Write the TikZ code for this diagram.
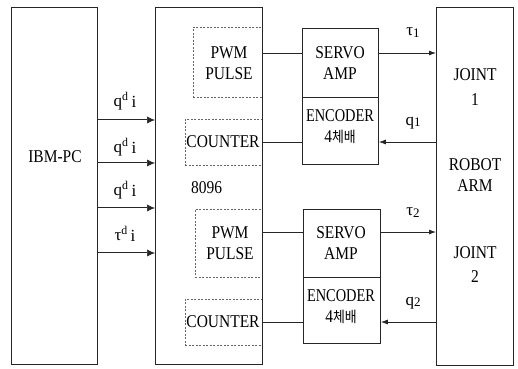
\documentclass[tikz,border=0pt]{standalone}
\usepackage{fontspec}
\setmainfont{Liberation Serif}
\newfontfamily\kr{Noto Sans CJK KR}
\usetikzlibrary{arrows.meta}
\newcommand\nx[1]{\scalebox{0.86}[1]{#1}}
\newcommand\nxe[1]{\scalebox{0.8}[1]{#1}}
\begin{document}
\begin{tikzpicture}[x=1pt,y=-1pt,
  blk/.style={draw=black!85, line width=0.8pt, anchor=north west, inner sep=0pt},
  dbox/.style={draw=black!60, dash pattern=on 2pt off 1.5pt, line width=0.6pt, anchor=north west, inner sep=0pt},
  lbl/.style={font=\fontsize{18}{21}\selectfont, align=center, inner sep=0pt},
  sig/.style={font=\fontsize{17}{19}\selectfont, inner sep=0pt},
  wire/.style={line width=0.8pt, draw=black!85},
  arr/.style={line width=0.8pt, draw=black!85, -{Latex[length=7pt,width=5pt]}},
  dbl/.style={double=white, double distance=0.9pt, line width=0.6pt, draw=black!85, -{Latex[length=8pt,width=7pt]}}
]
\useasboundingbox (0,0) rectangle (518,368);
% dashed inner blocks
\node[dbox, minimum width=69pt, minimum height=70pt] (pwm1) at (193,27) {};
\node[dbox, minimum width=77pt, minimum height=46pt] (cnt1) at (185,119) {};
\node[dbox, minimum width=67pt, minimum height=68pt] (pwm2) at (195,209) {};
\node[dbox, minimum width=77pt, minimum height=46pt] (cnt2) at (185,299) {};
% main blocks
\node[blk, minimum width=86pt, minimum height=357pt] (ibm) at (11,7) {};
\node[blk, minimum width=107pt, minimum height=357pt] (mcu) at (155,7) {};
\node[blk, minimum width=77pt, minimum height=358pt] (joint) at (436,7) {};
\node[blk, minimum width=76pt, minimum height=69pt] (servo1) at (302,28) {};
\node[blk, minimum width=76pt, minimum height=67pt] (enc1) at (302,97) {};
\node[blk, minimum width=77pt, minimum height=68pt] (servo2) at (303,209) {};
\node[blk, minimum width=77pt, minimum height=66pt] (enc2) at (303,277) {};
% texts
\node[lbl] (ibmt) at (55,157) {\nx{IBM-PC}};
\node[lbl, anchor=west] (mcut) at (191,188) {\nx{8096}};
\node[lbl] (pwm1t) at (229,63) {\nx{PWM}\\\nx{PULSE}};
\node[lbl] (cnt1t) at (223,142) {\nx{COUNTER}};
\node[lbl] (pwm2t) at (230,243) {\nx{PWM}\\\nx{PULSE}};
\node[lbl] (cnt2t) at (223,322) {\nx{COUNTER}};
\node[lbl] (servo1t) at (340,63) {\nx{SERVO}\\\nx{AMP}};
\node[lbl] (enc1t) at (340,127) {\nxe{ENCODER}\\\nx{4{\kr\fontsize{15}{17}\selectfont 체배}}};
\node[lbl] (servo2t) at (341,243) {\nx{SERVO}\\\nx{AMP}};
\node[lbl] (enc2t) at (341,307) {\nxe{ENCODER}\\\nx{4{\kr\fontsize{15}{17}\selectfont 체배}}};
\node[lbl, font=\fontsize{18}{25}\selectfont] (j1t) at (475,87) {\nx{JOINT}\\\nx{1}};
\node[lbl] (armt) at (475,175) {\nx{ROBOT}\\\nx{ARM}};
\node[lbl, font=\fontsize{18}{24}\selectfont] (j2t) at (475,265) {\nx{JOINT}\\\nx{2}};
% signal rows
\coordinate (a1) at (0,120);
\coordinate (a2) at (0,163);
\coordinate (a3) at (0,208);
\coordinate (a4) at (0,253);
\coordinate (r1) at (0,53);
\coordinate (r2) at (0,142);
\coordinate (r3) at (0,232);
\coordinate (r4) at (0,322);
% IBM -> 8096
\draw[dbl] (ibm.east |- a1) -- (mcu.west |- a1);
\draw[dbl] (ibm.east |- a2) -- (mcu.west |- a2);
\draw[dbl] (ibm.east |- a3) -- (mcu.west |- a3);
\draw[dbl] (ibm.east |- a4) -- (mcu.west |- a4);
\node[sig] (l1) at (125,101) {q\textsuperscript{d}\,\raisebox{-1pt}{i}};
\node[sig] (l2) at (125,147) {q\textsuperscript{d}\,\raisebox{-1pt}{i}};
\node[sig] (l3) at (125,190) {q\textsuperscript{d}\,\raisebox{-1pt}{i}};
\node[sig] (l4) at (125,234) {τ\textsuperscript{d}\,\raisebox{-1pt}{i}};
% 8096 <-> servo/encoder
\draw[wire] (mcu.east |- r1) -- (servo1.west |- r1);
\draw[wire] (enc1.west |- r2) -- (mcu.east |- r2);
\draw[wire] (mcu.east |- r3) -- (servo2.west |- r3);
\draw[wire] (enc2.west |- r4) -- (mcu.east |- r4);
% servo/encoder <-> joint
\draw[arr] (servo1.east |- r1) -- (joint.west |- r1);
\draw[arr] (joint.west |- r2) -- (enc1.east |- r2);
\draw[arr] (servo2.east |- r3) -- (joint.west |- r3);
\draw[arr] (joint.west |- r4) -- (enc2.east |- r4);
\node[sig] (t1) at (413,33) {τ\raisebox{-2pt}{\fontsize{13}{15}\selectfont 1}};
\node[sig] (q1) at (413,123) {q\raisebox{-1pt}{\fontsize{13}{15}\selectfont 1}};
\node[sig] (t2) at (413,213) {τ\raisebox{-2pt}{\fontsize{13}{15}\selectfont 2}};
\node[sig] (q2) at (413,303) {q\raisebox{-1pt}{\fontsize{13}{15}\selectfont 2}};
\end{tikzpicture}
\end{document}
